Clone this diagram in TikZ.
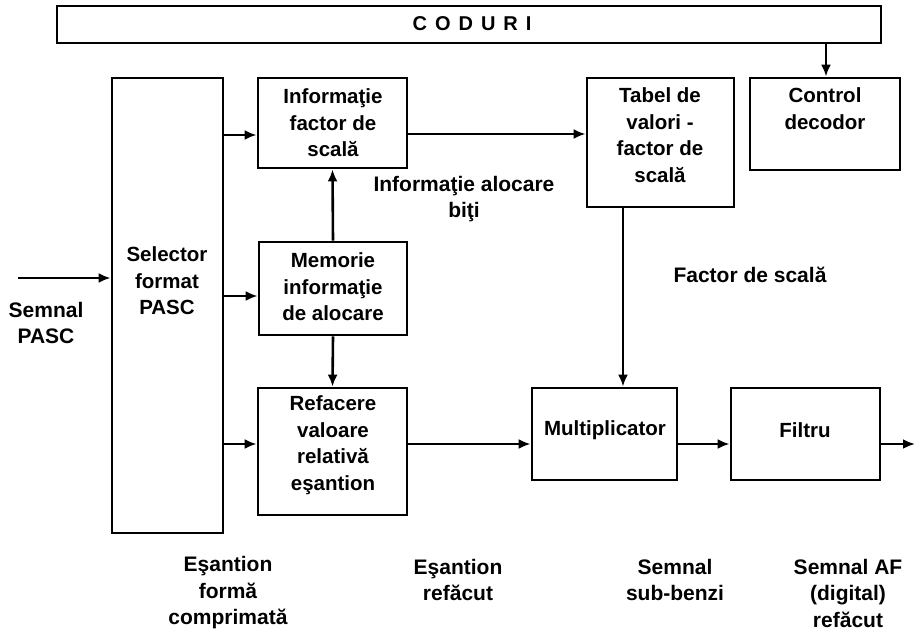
\documentclass[tikz,border=0pt]{standalone}
\usepackage{fontspec}
\setmainfont{Liberation Sans}
\usetikzlibrary{arrows.meta}
\begin{document}
\begin{tikzpicture}[x=1pt,y=-1pt,
  box/.style={draw, line width=2.8pt, inner sep=0pt},
  txt/.style={align=center, inner sep=0pt, font=\fontsize{20.5}{26.5}\selectfont\bfseries},
  lbl/.style={align=center, inner sep=0pt, font=\fontsize{21}{26.5}\selectfont\bfseries},
  arr/.style={line width=2.6pt, -{Latex[length=12pt,width=10pt]}}]
\useasboundingbox (0,0) rectangle (916,632);
% boxes
\node[box, minimum width=824, minimum height=37] (cod) at (469,24.5) {};
\node[box, minimum width=111, minimum height=455] (sel) at (167.5,305.5) {};
\node[box, minimum width=149, minimum height=90] (ifs) at (332.5,123) {};
\node[box, minimum width=148, minimum height=93] (mem) at (333,288.5) {};
\node[box, minimum width=149, minimum height=127] (ref) at (332.5,451.5) {};
\node[box, minimum width=147, minimum height=129] (tab) at (660.5,142.5) {};
\node[box, minimum width=150, minimum height=92] (ctl) at (825,124) {};
\node[box, minimum width=145, minimum height=92] (mul) at (604.5,434) {};
\node[box, minimum width=149, minimum height=92] (fil) at (805.5,434) {};
% box texts
\node[inner sep=0pt, font=\fontsize{20}{24}\selectfont\bfseries\addfontfeature{LetterSpace=40}] (codt) at (472,24) {CODURI};
\node[txt] (ifst) at (333,123) {Informaţie\\factor de\\scală};
\node[txt] (tabt) at (660,135) {Tabel de\\valori -\\factor de\\scală};
\node[txt] (ctlt) at (825,108.5) {Control\\decodor};
\node[txt] (selt) at (167,281) {Selector\\format\\PASC};
\node[txt] (memt) at (333,287) {Memorie\\informaţie\\de alocare};
\node[txt] (reft) at (333,445) {Refacere\\valoare\\relativă\\eşantion};
\node[txt] (mult) at (605,430) {Multiplicator};
\node[txt] (filt) at (805,430) {Filtru};
% free labels
\node[lbl] (pasc) at (46,323) {Semnal\\PASC};
\node[lbl] (aloc) at (464,199) {Informaţie alocare\\biţi};
\node[lbl] (fsc) at (750,275) {Factor de scală};
\node[lbl] (l1) at (228,593) {Eşantion\\formă\\comprimată};
\node[lbl] (l2) at (458,580) {Eşantion\\refăcut};
\node[lbl] (l3) at (675,580) {Semnal\\sub-benzi};
\node[lbl] (l4) at (848,593) {Semnal AF\\(digital)\\refăcut};
% connectors
\coordinate (in) at (18,278);
\coordinate (out) at (915,444);
\draw[arr] (in) -- (in -| sel.west);
\draw[arr] (sel.east |- 0,135) -- (ifs.west |- 0,135);
\draw[arr] (sel.east |- 0,296) -- (mem.west |- 0,296);
\draw[arr] (sel.east |- 0,444) -- (ref.west |- 0,444);
\draw[arr] (mem.north) -- (ifs.south);
\draw[arr] (mem.south) -- (ref.north);
\draw[arr] (ifs.east |- 0,134) -- (tab.west |- 0,134);
\draw[arr] (ref.east |- 0,444) -- (mul.west |- 0,444);
\draw[arr] (tab.south -| 623,0) -- (mul.north -| 623,0);
\draw[arr] (mul.east |- 0,444) -- (fil.west |- 0,444);
\draw[arr] (fil.east |- out) -- (out);
\draw[arr] (cod.south -| 826,0) -- (ctl.north -| 826,0);
\end{tikzpicture}
\end{document}
